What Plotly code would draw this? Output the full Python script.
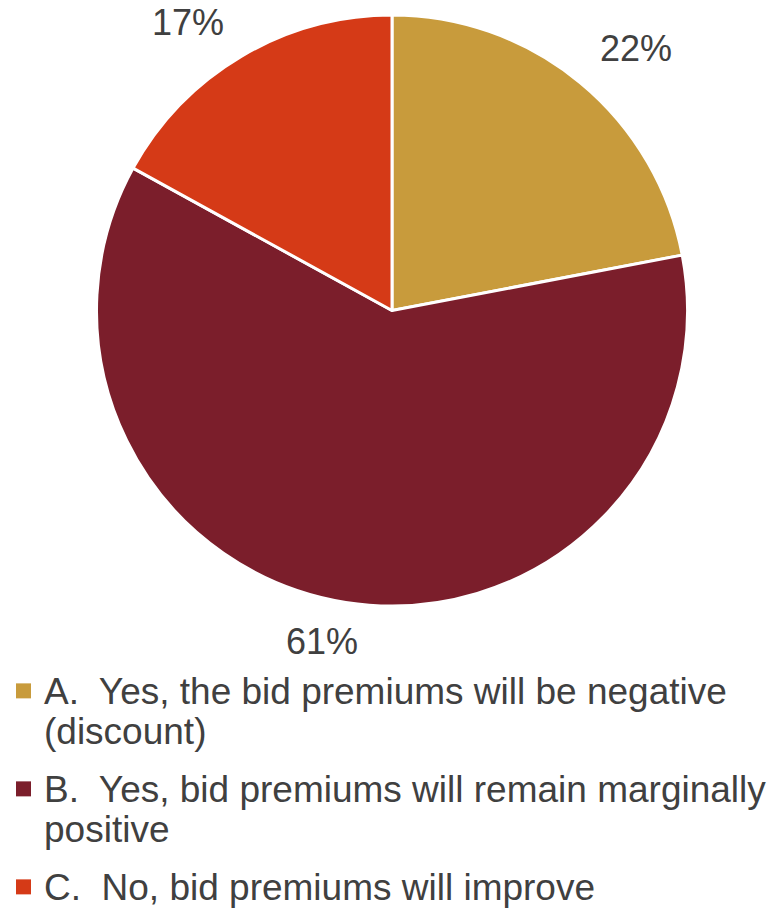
import plotly.graph_objects as go

# Survey responses: will bid premiums stay positive?
categories = [
    "A.\u00a0 Yes, the bid premiums will be negative (discount)",
    "B.\u00a0 Yes, bid premiums will remain marginally positive",
    "C.\u00a0 No, bid premiums will improve",
]
# Legend text broken into the lines it is set in
legend_lines = [
    ["A.\u00a0 Yes, the bid premiums will be negative", "(discount)"],
    ["B.\u00a0 Yes, bid premiums will remain marginally", "positive"],
    ["C.\u00a0 No, bid premiums will improve"],
]
shares = [22, 61, 17]
colors = ["#C89B3C", "#7B1E2B", "#D53A17"]

# Percentage label placement (pixels from top-left) for each slice
label_pos = [(636, 49), (322, 641), (188, 22)]

W, H = 781, 909
TEXT = "#404040"
FONT = "Liberation Sans, Arial, sans-serif"
PCT_SIZE = 36
LEG_SIZE = 37

# Pie geometry (pixels)
CX, CY, HALF = 392, 310.5, 295.5

fig = go.Figure(
    go.Pie(
        labels=categories,
        values=shares,
        sort=False,
        direction="clockwise",
        rotation=0,
        marker=dict(colors=colors, line=dict(color="white", width=3)),
        textinfo="none",
        hoverinfo="label+percent",
        showlegend=False,
        domain=dict(
            x=[(CX - HALF) / W, (CX + HALF) / W],
            y=[1 - (CY + HALF) / H, 1 - (CY - HALF) / H],
        ),
    )
)

for v, (px, py) in zip(shares, label_pos):
    fig.add_annotation(
        x=px / W, y=1 - py / H, xref="paper", yref="paper",
        text=f"{v}%", showarrow=False,
        xanchor="center", yanchor="middle",
        font=dict(size=PCT_SIZE, color=TEXT, family=FONT),
    )

# Legend: colour square + wrapped label lines
LEG_TOP_BASELINE = 704   # baseline of first legend line
LINE_STEP = 40           # baseline distance inside an entry
ENTRY_GAP = 58           # baseline distance between entries
TEXT_X = 42
SQ_X0, SQ = 16, 15

baseline = LEG_TOP_BASELINE
for lines, col in zip(legend_lines, colors):
    mid = baseline - 0.355 * LEG_SIZE
    fig.add_shape(
        type="rect", xref="paper", yref="paper",
        x0=SQ_X0 / W, x1=(SQ_X0 + SQ) / W,
        y0=1 - (mid + SQ / 2) / H, y1=1 - (mid - SQ / 2) / H,
        fillcolor=col, line=dict(width=0),
    )
    for i, line in enumerate(lines):
        b = baseline + i * LINE_STEP
        fig.add_annotation(
            x=TEXT_X / W, y=1 - (b - 0.35 * LEG_SIZE) / H,
            xref="paper", yref="paper",
            text=line, showarrow=False,
            xanchor="left", yanchor="middle",
            font=dict(size=LEG_SIZE, color=TEXT, family=FONT),
        )
    baseline += (len(lines) - 1) * LINE_STEP + ENTRY_GAP

fig.update_layout(
    width=W, height=H,
    margin=dict(l=0, r=0, t=0, b=0),
    paper_bgcolor="white",
    plot_bgcolor="white",
    showlegend=False,
)

fig.write_html("out.html")
